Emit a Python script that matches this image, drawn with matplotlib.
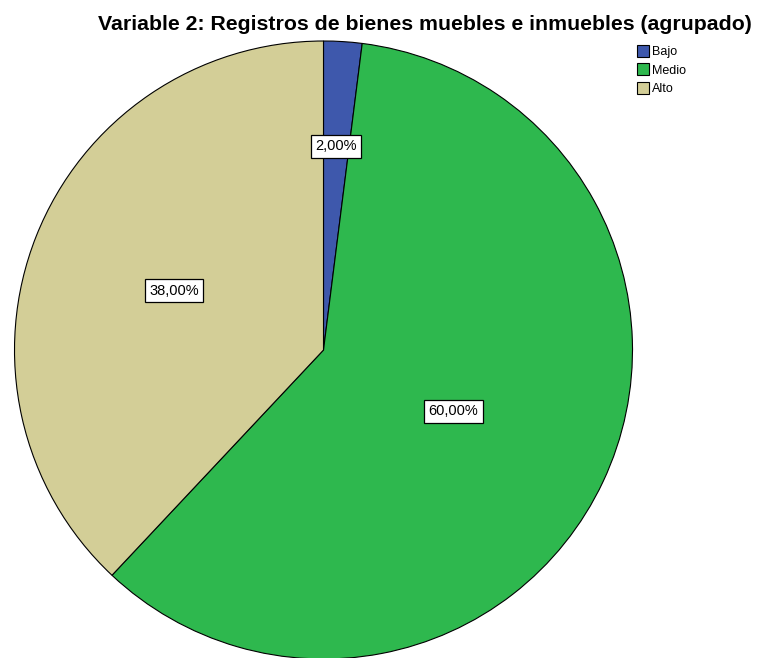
import matplotlib.pyplot as plt
import numpy as np

# Data
categorias = ['Bajo', 'Medio', 'Alto']
porcentajes = [2.0, 60.0, 38.0]
colores = ['#3E58AC', '#2EB84E', '#D3CE97']
# label distance from centre (fraction of radius), per slice
dist_etiqueta = [0.66, 0.465, 0.52]

plt.rc('font', family=['Liberation Sans', 'DejaVu Sans'])

fig = plt.figure(figsize=(7.6, 6.58), dpi=100)
W, H = 760, 658
cx, cy, r = 323.5, 350, 309
ax = fig.add_axes([(cx - r) / W, (H - cy - r) / H, 2 * r / W, 2 * r / H])

wedges, _ = ax.pie(porcentajes, colors=colores, startangle=90, counterclock=False,
                   wedgeprops=dict(edgecolor='black', linewidth=0.8))
ax.set_xlim(-1, 1)
ax.set_ylim(-1, 1)
ax.set_aspect('equal')
ax.axis('off')

# Percentage labels
for w, p, d in zip(wedges, porcentajes, dist_etiqueta):
    ang = np.deg2rad((w.theta1 + w.theta2) / 2)
    ax.text(d * np.cos(ang), d * np.sin(ang), f'{p:.2f}%'.replace('.', ','),
            ha='center', va='center', fontsize=10.5,
            bbox=dict(boxstyle='square,pad=0.3', facecolor='white', edgecolor='black', linewidth=0.9))

fig.text(424.5 / W, 1 - 25 / H, 'Variable 2: Registros de bienes muebles e inmuebles (agrupado)',
         ha='center', va='center', fontsize=15.3, fontweight='bold')

fig.legend(wedges, categorias, loc='upper left', bbox_to_anchor=(634 / W, 1 - 42 / H),
           frameon=False, fontsize=9, handlelength=1.0, handleheight=1.1,
           handletextpad=0.25, labelspacing=0.45, borderaxespad=0,
           borderpad=0.2)

fig.savefig('out.png', dpi=100)
